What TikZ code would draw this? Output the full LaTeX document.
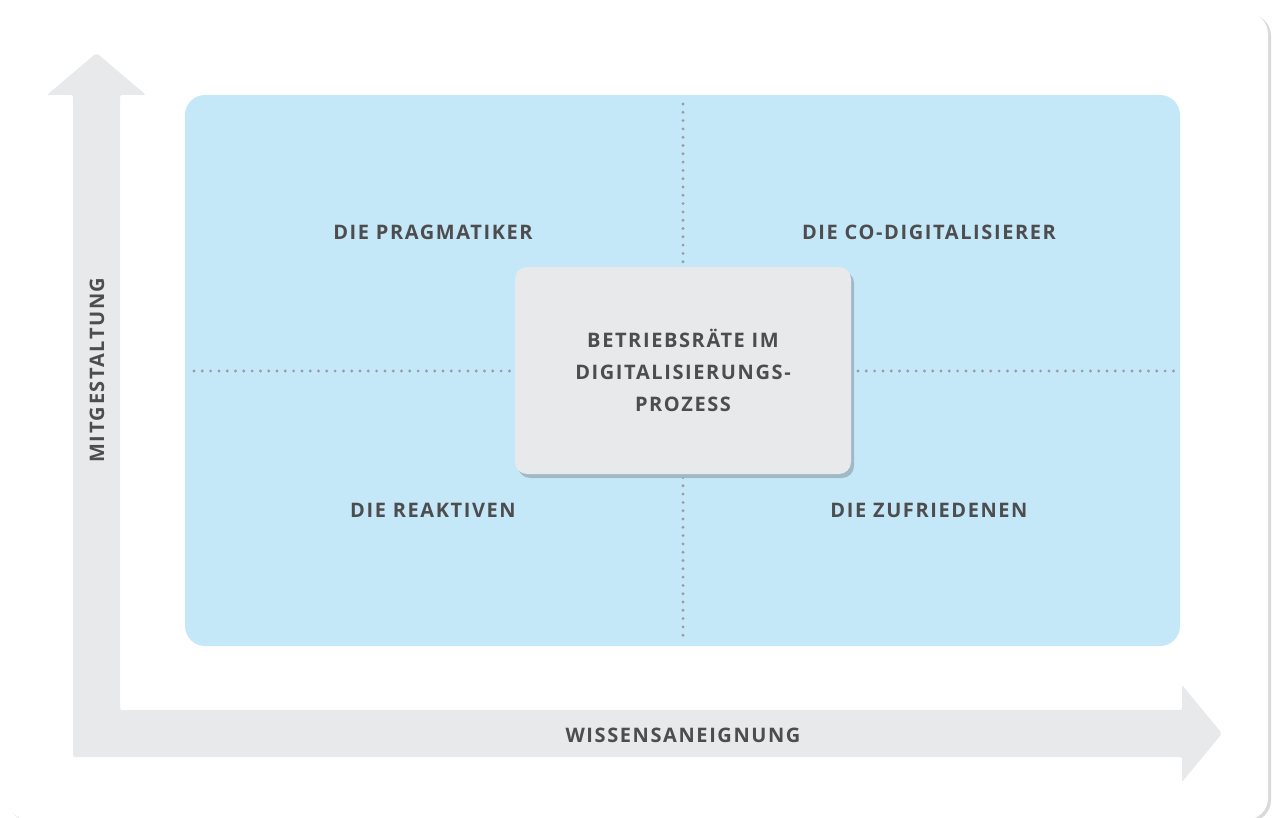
\documentclass[tikz,border=0pt]{standalone}
\usepackage{fontspec}
\setmainfont{Open Sans}
\newfontfamily\quadfont{Open Sans}[LetterSpace=8]
\usetikzlibrary{shadows}

\definecolor{quadblue}{HTML}{C5E8F8}
\definecolor{axisgray}{HTML}{E8E9EB}
\definecolor{textgray}{HTML}{4D4D4F}
\definecolor{dotgray}{HTML}{9B9C9E}
\definecolor{boxshadow}{HTML}{9DB4C2}

\tikzstyle{quadlabel} = [text=textgray, font=\quadfont\bfseries\fontsize{20}{32}\selectfont, align=center, inner sep=0pt]
\tikzstyle{dots} = [draw=dotgray, line width=3.2pt, line cap=round, dash pattern=on 0pt off 8.3pt]
\tikzstyle{centerbox} = [rectangle, fill=axisgray, rounded corners=12pt, minimum width=336pt, minimum height=207pt, drop shadow={shadow xshift=3pt, shadow yshift=-4pt, fill=boxshadow, opacity=0.9}]

\begin{document}
\begin{tikzpicture}[x=1pt, y=-1pt]
\useasboundingbox (0,0) rectangle (1272,818);

% card
\fill[gray!30, rounded corners=22pt] (9,14) rectangle (1271,822);
\fill[white, rounded corners=22pt] (7,12) rectangle (1268,820);

% axes
\fill[axisgray, rounded corners=2pt] (73,757) -- (73,95) -- (47,95) -- (96.5,53) -- (146,95)
  -- (120,95) -- (120,710) -- (1182,710) -- (1182,685) -- (1222,733.5) -- (1182,782)
  -- (1182,757) -- cycle;
\node [quadlabel, rotate=90] (ymitg) at (97,370) {MITGESTALTUNG};
\node [quadlabel] (xwiss) at (683,735) {WISSENSANEIGNUNG};

% quadrants
\fill[quadblue, rounded corners=20pt] (185,95) rectangle (1180,646);
\coordinate (vtop) at (683,104);
\coordinate (vbot) at (683,638);
\coordinate (hleft) at (194,371);
\coordinate (hright) at (1174,371);
\path [dots] (vtop) -- (vbot);
\path [dots] (hleft) -- (hright);

\node [quadlabel] (pragm) at (433,232) {DIE PRAGMATIKER};
\node [quadlabel] (codig) at (929,232) {DIE CO-DIGITALISIERER};
\node [quadlabel] (reakt) at (433,510) {DIE REAKTIVEN};
\node [quadlabel] (zufri) at (929,510) {DIE ZUFRIEDENEN};

\node [centerbox, quadlabel] (br) at (683,370.5) {BETRIEBSRÄTE IM\\DIGITALISIERUNGS-\\PROZESS};
\end{tikzpicture}
\end{document}
